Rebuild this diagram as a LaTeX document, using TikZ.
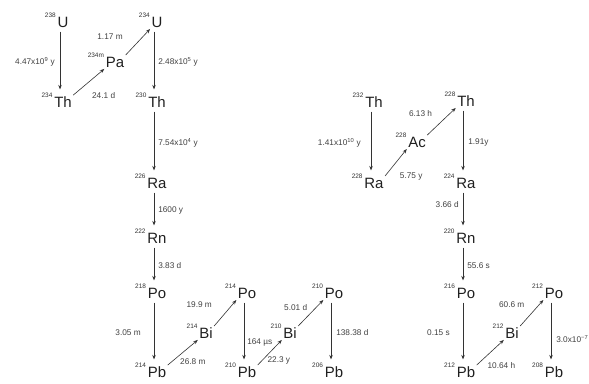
\documentclass[tikz,border=0pt]{standalone}
\usepackage{fontspec}
\setmainfont{Liberation Sans}
\usetikzlibrary{arrows.meta}

\begin{document}
\begin{tikzpicture}[x=1bp, y=-1bp,
  nuc/.style={inner sep=1pt, text height=10.9pt, text depth=0pt, font=\fontsize{15}{15}\selectfont, text=black!88},
  iso/.style={inner sep=0.5pt, font=\fontsize{6.5}{6.5}\selectfont, text=black!80},
  lbl/.style={inner sep=1pt, font=\fontsize{8.3}{8.3}\selectfont, text=black!75},
  arr/.style={-{Stealth[length=4.5pt, width=3.5pt]}, line width=0.6pt, draw=black!80},
  vdecay/.style={arr, shorten <=3pt, shorten >=6pt, transform canvas={xshift=-3pt}},
  ddecay/.style={arr, shorten <=0.5pt, shorten >=0.5pt}]
\useasboundingbox (0,0) rectangle (589,383);
% uranium series
\node[nuc, label={[iso,anchor=east]north west:238}] (u238) at (63,22) {U};
\node[nuc, label={[iso,anchor=east]north west:234}] (th234) at (63,102) {Th};
\node[nuc, label={[iso,anchor=east]north west:234m}] (pa234) at (115,62) {Pa};
\node[nuc, label={[iso,anchor=east]north west:234}] (u234) at (157,22) {U};
\node[nuc, label={[iso,anchor=east]north west:230}] (th230) at (157,102) {Th};
\node[nuc, label={[iso,anchor=east]north west:226}] (ra226) at (157,183) {Ra};
\node[nuc, label={[iso,anchor=east]north west:222}] (rn222) at (157,238) {Rn};
\node[nuc, label={[iso,anchor=east]north west:218}] (po218) at (157,293) {Po};
\node[nuc, label={[iso,anchor=east]north west:214}] (pb214) at (157,372) {Pb};
\node[nuc, label={[iso,anchor=east]north west:214}] (bi214) at (206,333) {Bi};
\node[nuc, label={[iso,anchor=east]north west:214}] (po214) at (247,293) {Po};
\node[nuc, label={[iso,anchor=east]north west:210}] (pb210) at (247,372) {Pb};
\node[nuc, label={[iso,anchor=east]north west:210}] (bi210) at (290,333) {Bi};
\node[nuc, label={[iso,anchor=east]north west:210}] (po210) at (334,293) {Po};
\node[nuc, label={[iso,anchor=east]north west:206}] (pb206) at (334,372) {Pb};
\draw[vdecay] (u238) -- node[lbl, left=4pt] {4.47x10\textsuperscript{9} y} (th234);
\draw[ddecay] (th234.north east) -- node[lbl, pos=0, right=18pt] {24.1 d} (pa234.south west);
\draw[ddecay] (pa234.north east) -- node[lbl, pos=0.7, left=19pt] {1.17 m} (u234.south west);
\draw[vdecay] (u234) -- node[lbl, right=3pt] {2.48x10\textsuperscript{5} y} (th230);
\draw[vdecay] (th230) -- node[lbl, right=3pt] {7.54x10\textsuperscript{4} y} (ra226);
\draw[vdecay] (ra226) -- node[lbl, right=3pt] {1600 y} (rn222);
\draw[vdecay] (rn222) -- node[lbl, right=3pt] {3.83 d} (po218);
\draw[vdecay] (po218) -- node[lbl, left=12pt] {3.05 m} (pb214);
\draw[ddecay] (pb214.north east) -- node[lbl, pos=0.15, right=7pt] {26.8 m} (bi214.south west);
\draw[ddecay] (bi214.north east) -- node[lbl, pos=0.8, left=19pt] {19.9 m} (po214.south west);
\draw[vdecay] (po214) -- node[lbl, pos=0.65, right=2pt] {164 µs} (pb210);
\draw[ddecay] (pb210.north east) -- node[lbl, pos=0.2, right=4pt] {22.3 y} (bi210.south west);
\draw[ddecay] (bi210.north east) -- node[lbl, pos=0.72, left=8pt] {5.01 d} (po210.south west);
\draw[vdecay] (po210) -- node[lbl, right=4pt] {138.38 d} (pb206);
% thorium series
\node[nuc, label={[iso,anchor=east]north west:232}] (th232) at (374,102) {Th};
\node[nuc, label={[iso,anchor=east]north west:228}] (ra228) at (374,183) {Ra};
\node[nuc, label={[iso,anchor=east]north west:228}] (ac228) at (417,142) {Ac};
\node[nuc, label={[iso,anchor=east]north west:228}] (th228) at (466,101) {Th};
\node[nuc, label={[iso,anchor=east]north west:224}] (ra224) at (466,183) {Ra};
\node[nuc, label={[iso,anchor=east]north west:220}] (rn220) at (466,238) {Rn};
\node[nuc, label={[iso,anchor=east]north west:216}] (po216) at (466,293) {Po};
\node[nuc, label={[iso,anchor=east]north west:212}] (pb212) at (466,372) {Pb};
\node[nuc, label={[iso,anchor=east]north west:212}] (bi212) at (512,333) {Bi};
\node[nuc, label={[iso,anchor=east]north west:212}] (po212) at (554,293) {Po};
\node[nuc, label={[iso,anchor=east]north west:208}] (pb208) at (554,372) {Pb};
\draw[vdecay] (th232) -- node[lbl, left=9pt] {1.41x10\textsuperscript{10} y} (ra228);
\draw[ddecay] (ra228.north east) -- node[lbl, pos=0, right=14pt] {5.75 y} (ac228.south west);
\draw[ddecay] (ac228.north east) -- node[lbl, pos=0.8, left=17pt] {6.13 h} (th228.south west);
\draw[vdecay] (th228) -- node[lbl, right=4pt] {1.91y} (ra224);
\draw[vdecay] (ra224) -- node[lbl, pos=0.35, left=3pt] {3.66 d} (rn220);
\draw[vdecay] (rn220) -- node[lbl, right=3pt] {55.6 s} (po216);
\draw[vdecay] (po216) -- node[lbl, left=12pt] {0.15 s} (pb212);
\draw[ddecay] (pb212.north east) -- node[lbl, pos=0, right=10pt] {10.64 h} (bi212.south west);
\draw[ddecay] (bi212.north east) -- node[lbl, pos=0.83, left=14pt] {60.6 m} (po212.south west);
\draw[vdecay] (po212) -- node[lbl, pos=0.6, right=4pt] {3.0x10\textsuperscript{−7}} (pb208);
\end{tikzpicture}
\end{document}
